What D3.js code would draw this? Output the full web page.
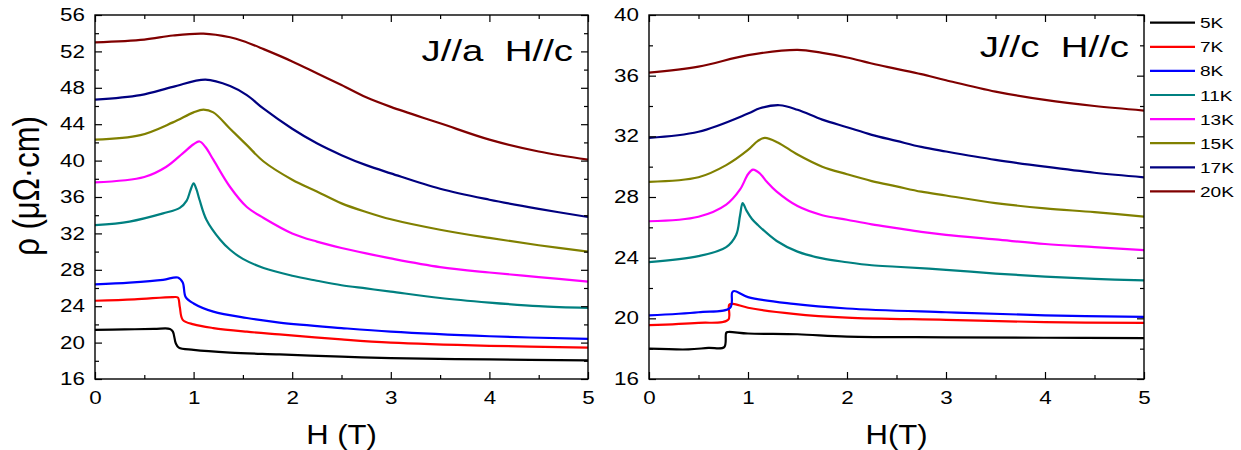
<!DOCTYPE html>
<html><head><meta charset="utf-8">
<script src="https://cdn.jsdelivr.net/npm/d3@7"></script>
<style>
body{margin:0;background:#fff}
svg{display:block}
text{font-family:"Liberation Sans",Arial,sans-serif;fill:#000}
</style>
</head><body>
<svg id="c" width="1241" height="450"></svg>
<script>
// ---------- data ----------
const temps = ["5K","7K","8K","11K","13K","15K","17K","20K"];
const colors = ["#000000","#ff0000","#0000ff","#008080","#ff00ff","#808000","#000080","#800000"];
const xTicks = [0,1,2,3,4,5];
const yTicksA = [16,20,24,28,32,36,40,44,48,52,56];
const yTicksC = [16,20,24,28,32,36,40];

// J//a  H//c  : [H (T), rho (μΩ·cm)]
const a5K  = [[0,21.4],[0.3,21.45],[0.6,21.5],[0.76,21.5],[0.79,21.2],[0.82,19.9],[0.85,19.45],[1,19.2],[1.37,18.9],[1.87,18.7],[2.5,18.45],[3,18.3],[4,18.15],[5,18.05]];
const a7K  = [[0,24.6],[0.4,24.75],[0.79,25.0],[0.84,24.95],[0.86,23.9],[0.89,22.5],[1,22.0],[1.2,21.6],[1.54,21.2],[1.87,20.9],[2.5,20.35],[3,20.0],[4,19.65],[5,19.45]];
const a8K  = [[0,26.4],[0.35,26.6],[0.69,26.9],[0.84,27.15],[0.89,26.6],[0.92,25.0],[1,24.3],[1.2,23.4],[1.54,22.7],[1.87,22.2],[2.5,21.6],[3,21.2],[4,20.7],[5,20.4]];
const a11K = [[0,32.9],[0.35,33.3],[0.69,34.2],[0.86,34.8],[0.93,35.6],[0.97,36.8],[1.0,37.5],[1.03,36.8],[1.06,35.7],[1.13,33.5],[1.27,31.3],[1.37,30.2],[1.5,29.2],[1.71,28.2],[2,27.35],[2.25,26.8],[2.5,26.3],[2.75,25.95],[3,25.6],[3.5,24.9],[4,24.4],[4.5,24.0],[5,23.8]];
const a13K = [[0,37.6],[0.5,38.2],[0.72,39.3],[0.89,40.8],[1.0,41.8],[1.06,42.1],[1.12,41.5],[1.2,40.1],[1.37,37.1],[1.54,34.9],[1.71,33.7],[2,32.0],[2.25,31.1],[2.5,30.4],[2.75,29.8],[3,29.25],[3.5,28.3],[4,27.7],[4.5,27.2],[5,26.7]];
const a15K = [[0,42.3],[0.46,42.8],[0.79,44.2],[1.0,45.3],[1.1,45.6],[1.2,45.3],[1.37,43.5],[1.54,41.7],[1.71,39.9],[2,37.9],[2.25,36.6],[2.5,35.3],[2.75,34.35],[3,33.55],[3.5,32.4],[4,31.5],[4.5,30.7],[5,30.0]];
const a17K = [[0,46.7],[0.46,47.2],[0.79,48.1],[1.12,48.9],[1.37,48.2],[1.54,47.2],[1.71,45.7],[2,43.5],[2.25,41.9],[2.5,40.6],[2.75,39.5],[3,38.6],[3.5,36.9],[4,35.7],[4.5,34.7],[5,33.8]];
const a20K = [[0,53.0],[0.5,53.3],[0.79,53.75],[1.1,53.95],[1.37,53.55],[1.5,53.15],[1.71,52.25],[2,50.9],[2.25,49.6],[2.5,48.3],[2.75,46.95],[3,45.9],[3.5,44.1],[4,42.3],[4.5,41.0],[5,40.1]];

// J//c  H//c
const c5K  = [[0,18.0],[0.4,17.95],[0.6,18.05],[0.76,18.1],[0.78,19.05],[0.8,19.1],[1,19.0],[1.5,18.95],[2,18.8],[3,18.75],[4,18.72],[5,18.7]];
const c7K  = [[0,19.55],[0.5,19.7],[0.8,19.9],[0.81,20.9],[0.85,20.95],[1,20.7],[1.46,20.3],[2,20.05],[3,19.9],[4,19.75],[5,19.7]];
const c8K  = [[0,20.2],[0.5,20.4],[0.82,20.7],[0.84,21.7],[0.86,21.8],[1,21.4],[1.46,20.95],[2,20.65],[3,20.4],[4,20.2],[5,20.1]];
const c11K = [[0,23.7],[0.5,24.1],[0.78,24.7],[0.88,25.5],[0.92,26.8],[0.946,27.6],[0.985,27.1],[1.04,26.55],[1.1,26.15],[1.29,25.1],[1.5,24.4],[1.75,23.95],[2,23.7],[2.25,23.5],[2.5,23.4],[3,23.2],[3.5,22.95],[4,22.75],[4.5,22.6],[5,22.5]];
const c13K = [[0,26.4],[0.5,26.7],[0.78,27.5],[0.92,28.5],[1.0,29.5],[1.05,29.8],[1.12,29.55],[1.19,29.0],[1.29,28.35],[1.5,27.4],[1.75,26.8],[2,26.5],[2.25,26.2],[2.5,25.95],[2.75,25.7],[3,25.5],[3.5,25.2],[4,24.9],[4.5,24.7],[5,24.5]];
const c15K = [[0,29.0],[0.5,29.3],[0.78,30.1],[1,31.1],[1.1,31.7],[1.17,31.9],[1.3,31.6],[1.5,30.8],[1.75,30.0],[2,29.5],[2.25,29.05],[2.5,28.7],[2.75,28.35],[3,28.1],[3.5,27.6],[4,27.25],[4.5,27.0],[5,26.7]];
const c17K = [[0,31.9],[0.5,32.3],[1,33.5],[1.12,33.85],[1.32,34.05],[1.5,33.75],[1.75,33.1],[2,32.6],[2.25,32.1],[2.5,31.7],[2.75,31.3],[3,31.0],[3.5,30.45],[4,30.0],[4.5,29.6],[5,29.3]];
const c20K = [[0,36.2],[0.5,36.6],[1,37.35],[1.5,37.7],[1.75,37.5],[2,37.2],[2.25,36.8],[2.5,36.45],[2.75,36.1],[3,35.7],[3.5,34.95],[4,34.4],[4.5,34.0],[5,33.7]];

const seriesA = [a5K,a7K,a8K,a11K,a13K,a15K,a17K,a20K];
const seriesC = [c5K,c7K,c8K,c11K,c13K,c15K,c17K,c20K];

// ---------- drawing ----------
const svg = d3.select("#c");
const SX = 1.28; // horizontal text stretch of the original

function stretchTexts(sel) {
  sel.selectAll("text").each(function(){
    const t = d3.select(this);
    const x = +t.attr("x") || 0;
    t.attr("x", x / SX).attr("transform", `scale(${SX},1)`);
  });
}

function panel(id, x0, x1, yDomain, yTicks, series, title, titleY, xlabel) {
  const top = 15, bottom = 379;
  const x = d3.scaleLinear().domain([0,5]).range([x0,x1]);
  const y = d3.scaleLinear().domain(yDomain).range([bottom,top]);
  const g = svg.append("g").attr("id", id);

  g.append("clipPath").attr("id", id+"clip").append("rect")
    .attr("x", x0).attr("y", top).attr("width", x1-x0).attr("height", bottom-top);

  const line = d3.line().x(d=>x(d[0])).y(d=>y(d[1])).curve(d3.curveCatmullRom.alpha(0.5));
  const lg = g.append("g").attr("clip-path", `url(#${id}clip)`);
  series.forEach((s,i)=>{
    lg.append("path").datum(s).attr("d", line)
      .attr("fill","none").attr("stroke", colors[i]).attr("stroke-width", 2.2)
      .attr("stroke-linejoin","round");
  });

  const xMinor = d3.range(0.5,5,1);
  const yMinor = d3.range(yDomain[0]+2, yDomain[1], 4);

  function ax(axisFn, scale, vals, size, fmt, tr, pad) {
    const a = axisFn(scale).tickValues(vals).tickSizeInner(-size).tickSizeOuter(0).tickPadding(pad||0);
    a.tickFormat(fmt ? d3.format("d") : "");
    const s = g.append("g").attr("transform", tr).call(a);
    s.select(".domain").remove();
    s.selectAll("line").attr("stroke","#000").attr("stroke-width",1.2);
    return s;
  }
  const xb = ax(d3.axisBottom, x, xTicks, 7, true, `translate(0,${bottom})`, 13);
  xb.selectAll("text").attr("font-size", 17.5).attr("font-family", '"Liberation Sans",Arial,sans-serif');
  stretchTexts(xb);
  ax(d3.axisBottom, x, xMinor, 4, false, `translate(0,${bottom})`);
  ax(d3.axisTop, x, xTicks, 7, false, `translate(0,${top})`);
  ax(d3.axisTop, x, xMinor, 4, false, `translate(0,${top})`);
  const yl = ax(d3.axisLeft, y, yTicks, 7, true, `translate(${x0},0)`, 10);
  yl.selectAll("text").attr("font-size", 17.5).attr("font-family", '"Liberation Sans",Arial,sans-serif');
  stretchTexts(yl);
  ax(d3.axisLeft, y, yMinor, 4, false, `translate(${x0},0)`);
  ax(d3.axisRight, y, yTicks, 7, false, `translate(${x1},0)`);
  ax(d3.axisRight, y, yMinor, 4, false, `translate(${x1},0)`);

  g.append("rect").attr("x", x0).attr("y", top).attr("width", x1-x0).attr("height", bottom-top)
    .attr("fill","none").attr("stroke","#000").attr("stroke-width",1.4);

  g.append("text").attr("text-anchor","end").attr("font-size",30)
    .attr("transform", `translate(${x1-15},${titleY}) scale(${SX},1)`)
    .attr("xml:space","preserve").text(title);

  g.append("text").attr("text-anchor","middle").attr("font-size",27)
    .attr("transform", `translate(${(x0+x1)/2},444) scale(1.15,1)`)
    .attr("xml:space","preserve").text(xlabel);
}

panel("pa", 95, 588, [16,56], yTicksA, seriesA, "J//a  H//c", 61, "H (T)");
panel("pc", 649, 1144, [16,40], yTicksC, seriesC, "J//c  H//c", 57, "H(T)");

// y label
svg.append("text").attr("text-anchor","middle").attr("font-size",31)
  .attr("transform","translate(39,186) scale(1.2,1) rotate(-90)")
  .text("ρ (μΩ·cm)");

// legend
const leg = svg.append("g");
temps.forEach((t,i)=>{
  const yy = 22.7 + i*24.1;
  leg.append("line").attr("x1",1150).attr("x2",1195).attr("y1",yy).attr("y2",yy)
    .attr("stroke",colors[i]).attr("stroke-width",2.2);
  leg.append("text").attr("font-size",15.5).attr("dy","0.36em")
    .attr("transform",`translate(1200,${yy}) scale(1.23,1)`).text(t);
});
</script>
</body></html>
